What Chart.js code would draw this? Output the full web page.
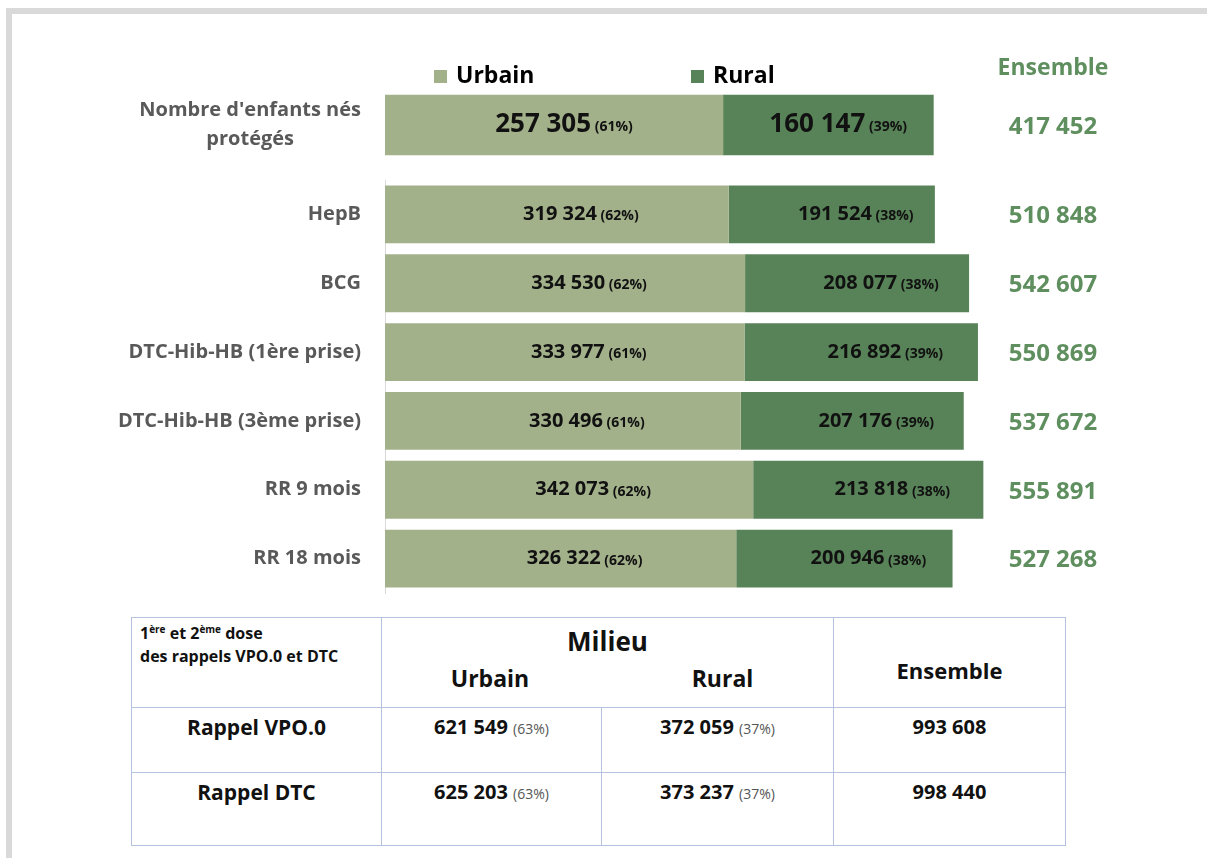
<!DOCTYPE html>
<html>
<head>
<meta charset="utf-8">
<script src="https://cdn.jsdelivr.net/npm/chart.js@4"></script>
<style>
  body { margin: 0; background: #fff; width: 1207px; height: 858px; overflow: hidden; position: relative; font-family: 'Open Sans', sans-serif; }
  #frame { position: absolute; left: 6px; top: 8px; width: 1300px; height: 900px; border-left: 6px solid #d9d9d9; border-top: 6px solid #d9d9d9; }
  canvas { position: absolute; left: 0; }
  #top { top: 40px; }
  #bottom { top: 170px; }
  table { position: absolute; left: 131px; top: 617px; width: 934px; table-layout: fixed; border-collapse: collapse; color: #111; }
  td { border: 1px solid #b4c2e0; padding: 0; text-align: center; vertical-align: top; font-weight: bold; }
  .corner { text-align: left; font-size: 16px; line-height: 23px; padding: 4px 0 0 8px; }
  .corner sup { font-size: 10px; vertical-align: 6px; line-height: 0; }
  .milieu { font-size: 26px; padding-top: 7px; line-height: 32px; }
  .sub { display: flex; font-size: 23px; line-height: 32px; padding-top: 5px; }
  .sub div:first-child { width: 216px; }
  .sub div:last-child { flex: 1; padding-left: 14px; }
  .ens { font-size: 22px; vertical-align: middle; padding-top: 14px; }
  .rowlab { font-size: 21px; padding-top: 5px; }
  .val { font-size: 20px; padding-top: 5px; }
  .val span { font-size: 14px; font-weight: normal; color: #555; }
</style>
</head>
<body>
<div id="frame"></div>
<canvas id="top" width="1207" height="130"></canvas>
<canvas id="bottom" width="1207" height="430"></canvas>
<table id="tab"></table>
<script>
// top row: children born protected
const birthLabel = ["Nombre d'enfants nés", "protégés"];
const birthUrbain = [257305];
const birthRural = [160147];
const birthUrbainPct = [61];
const birthRuralPct = [39];

// vaccines
const categories = ["HepB", "BCG", "DTC-Hib-HB (1ère prise)", "DTC-Hib-HB (3ème prise)", "RR 9 mois", "RR 18 mois"];
const urbain = [319324, 334530, 333977, 330496, 342073, 326322];
const rural = [191524, 208077, 216892, 207176, 213818, 200946];
const urbainPct = [62, 62, 61, 61, 62, 62];
const ruralPct = [38, 38, 39, 39, 38, 38];

// booster table
const rappels = ["Rappel VPO.0", "Rappel DTC"];
const rappelUrbain = [621549, 625203];
const rappelRural = [372059, 373237];
const rappelUrbainPct = [63, 63];
const rappelRuralPct = [37, 37];

const FONT = "'Open Sans', sans-serif";
const C_URB = '#a3b18b';
const C_RUR = '#588358';
const C_TOT = '#5f8f5f';

function fmt(n) { return String(n).replace(/\B(?=(\d{3})+(?!\d))/g, ' '); }

// numbers + percentages inside the bars
const valueLabels = {
  id: 'valueLabels',
  afterDatasetsDraw(chart, args, opts) {
    const ctx = chart.ctx;
    chart.data.datasets.forEach((ds, d) => {
      chart.getDatasetMeta(d).data.forEach((bar, i) => {
        const num = fmt(ds.data[i]);
        const pct = ' (' + ds.pct[i] + '%)';
        ctx.save();
        ctx.fillStyle = '#111';
        ctx.textAlign = 'left';
        ctx.textBaseline = 'middle';
        ctx.font = `bold ${opts.numSize}px ${FONT}`;
        const w1 = ctx.measureText(num).width;
        ctx.font = `bold ${opts.pctSize}px ${FONT}`;
        const w2 = ctx.measureText(pct).width;
        const x = (bar.base + bar.x) / 2 + opts.offset - (w1 + w2) / 2;
        ctx.font = `bold ${opts.numSize}px ${FONT}`;
        ctx.fillText(num, x, bar.y);
        ctx.font = `bold ${opts.pctSize}px ${FONT}`;
        ctx.fillText(pct, x + w1, bar.y + 2);
        ctx.restore();
      });
    });
  }
};

// totals on the right ("Ensemble")
const totals = {
  id: 'totals',
  afterDatasetsDraw(chart, args, opts) {
    const ctx = chart.ctx;
    const a = chart.data.datasets[0].data, b = chart.data.datasets[1].data;
    const x = chart.chartArea.right + 48;
    ctx.save();
    ctx.fillStyle = C_TOT;
    ctx.textAlign = 'center';
    ctx.textBaseline = 'middle';
    ctx.font = `bold 24px ${FONT}`;
    chart.getDatasetMeta(0).data.forEach((bar, i) => {
      ctx.fillText(fmt(a[i] + b[i]), x, bar.y + 2);
    });
    if (opts.header) {
      ctx.font = `bold 23px ${FONT}`;
      ctx.fillText('Ensemble', x, chart.chartArea.top - 22);
    }
    ctx.restore();
  }
};

// legend drawn above the first bar
const topLegend = {
  id: 'topLegend',
  afterDraw(chart, args, opts) {
    if (!opts.show) return;
    const ctx = chart.ctx;
    const y = chart.chartArea.top - 14;
    const xs = [chart.chartArea.left + 49, chart.chartArea.left + 306];
    ctx.save();
    ctx.textBaseline = 'middle';
    ctx.textAlign = 'left';
    ctx.font = `bold 23px ${FONT}`;
    chart.data.datasets.forEach((ds, d) => {
      ctx.fillStyle = ds.backgroundColor;
      ctx.fillRect(xs[d], y - 6, 13, 13);
      ctx.fillStyle = '#000';
      ctx.fillText(ds.label, xs[d] + 22, y);
    });
    ctx.restore();
  }
};

function makeChart(id, labels, u, r, up, rp, max, cfg) {
  return new Chart(document.getElementById(id), {
    type: 'bar',
    data: {
      labels: labels,
      datasets: [
        { label: 'Urbain', data: u, pct: up, backgroundColor: C_URB },
        { label: 'Rural', data: r, pct: rp, backgroundColor: C_RUR }
      ]
    },
    options: {
      indexAxis: 'y',
      responsive: false,
      animation: false,
      layout: { padding: { top: cfg.padTop, bottom: cfg.padBottom, right: 202 } },
      datasets: { bar: cfg.bar },
      scales: {
        x: { stacked: true, min: 0, max: max, display: false },
        y: {
          stacked: true,
          afterFit(scale) {
            scale.width = 385;
            scale.paddingTop = 0;
            scale.paddingBottom = 0;
          },
          grid: { display: true, drawOnChartArea: false, drawTicks: false },
          border: { display: cfg.axisLine, color: '#d9d9d9' },
          ticks: {
            padding: 24,
            crossAlign: cfg.crossAlign,
            color: '#595959',
            font: { family: FONT, weight: 'bold', size: 20, lineHeight: 1.45 }
          }
        }
      },
      plugins: {
        legend: { display: false },
        tooltip: { enabled: false },
        valueLabels: cfg.labels,
        totals: { header: cfg.header },
        topLegend: { show: cfg.header }
      }
    },
    plugins: [valueLabels, totals, topLegend]
  });
}

makeChart('top', [birthLabel], birthUrbain, birthRural, birthUrbainPct, birthRuralPct, 472000, {
  padTop: 50, padBottom: 10, bar: { barThickness: 60 }, axisLine: false, crossAlign: 'center',
  header: true, labels: { numSize: 26, pctSize: 14, offset: 10 }
});

makeChart('bottom', categories, urbain, rural, urbainPct, ruralPct, 576000, {
  padTop: 10, padBottom: 7, bar: { categoryPercentage: 1, barPercentage: 0.84 }, axisLine: true, crossAlign: 'near',
  header: false, labels: { numSize: 20, pctSize: 14, offset: 24 }
});

// booster table
let html = '<colgroup><col style="width:250px"><col style="width:220px"><col style="width:232px"><col style="width:232px"></colgroup>' +
  '<tr style="height:90px"><td class="corner">1<sup>ère</sup> et 2<sup>ème</sup> dose<br>des rappels VPO.0 et DTC</td>' +
  '<td colspan="2"><div class="milieu">Milieu</div><div class="sub"><div>Urbain</div><div>Rural</div></div></td>' +
  '<td class="ens">Ensemble</td></tr>';
rappels.forEach((name, i) => {
  html += `<tr style="height:${i === 0 ? 65 : 73}px"><td class="rowlab">${name}</td>` +
    `<td class="val">${fmt(rappelUrbain[i])} <span>(${rappelUrbainPct[i]}%)</span></td>` +
    `<td class="val">${fmt(rappelRural[i])} <span>(${rappelRuralPct[i]}%)</span></td>` +
    `<td class="val">${fmt(rappelUrbain[i] + rappelRural[i])}</td></tr>`;
});
document.getElementById('tab').innerHTML = html;
</script>
</body>
</html>
